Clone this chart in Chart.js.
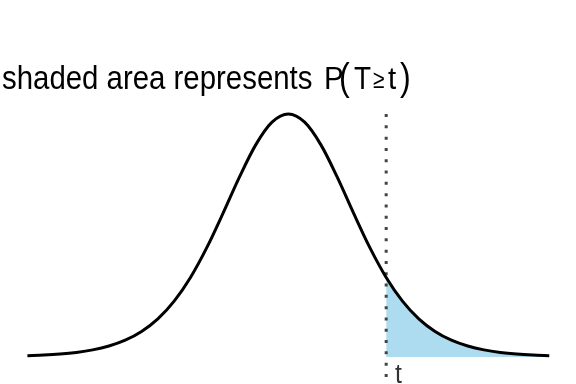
<!DOCTYPE html>
<html>
<head>
<meta charset="utf-8">
<script src="https://cdn.jsdelivr.net/npm/chart.js@4/dist/chart.umd.min.js"></script>
<style>
html,body{margin:0;padding:0;background:#fff;}
#c{display:block;}
</style>
</head>
<body>
<canvas id="c" width="576" height="384"></canvas>
<script>
// t-values (x) and density values
const xValues = [-4,-3.75,-3.5,-3.25,-3,-2.75,-2.5,-2.25,-2,-1.75,-1.5,-1.25,-1,-0.75,-0.5,-0.25,0,
                 0.25,0.5,0.75,1,1.25,1.5,1.75,2,2.25,2.5,2.75,3,3.25,3.5,3.75,4];
const density = [0.002,0.0031,0.0048,0.0074,0.0114,0.0176,0.0269,0.0409,0.0611,0.0895,0.1274,0.1751,0.2304,0.288,0.3397,0.376,0.3891,
                 0.376,0.3397,0.288,0.2304,0.1751,0.1274,0.0895,0.0611,0.0409,0.0269,0.0176,0.0114,0.0074,0.0048,0.0031,0.002];
const tValue = 1.5;
const markerRange = [-0.05, 0.40];

const curve = xValues.map((x,i)=>({x:x, y:density[i]}));
const tail = curve.filter(p => p.x >= tValue);
const marker = markerRange.map(y => ({x:tValue, y:y}));

const textPlugin = {
  id:'texts',
  afterDraw(chart){
    const ctx = chart.ctx;
    ctx.save();
    ctx.textBaseline = 'alphabetic';
    ctx.textAlign = 'left';
    function draw(str, x, y, size, sx, color, fitWidth){
      ctx.save();
      ctx.fillStyle = color || '#000';
      ctx.font = size + 'px "Liberation Sans", Arial, sans-serif';
      if (fitWidth) {
        const m = ctx.measureText(str);
        sx = fitWidth / (m.actualBoundingBoxRight + m.actualBoundingBoxLeft);
      }
      ctx.translate(x, y);
      ctx.scale(sx, 1);
      ctx.fillText(str, 0, 0);
      ctx.restore();
    }
    draw('shaded area represents', 2, 89, 33, 1, '#000', 310);
    draw('P', 324, 89, 31, 0.95);
    draw('(', 339, 90, 38, 0.85);
    draw('T', 354, 89, 31, 0.9);
    draw('\u2265', 373, 88, 26, 0.8);
    draw('t', 388, 89, 31, 0.95);
    draw(')', 400, 90, 38, 0.85);
    draw('t', 395, 383, 27, 0.92, '#333');
    ctx.restore();
  }
};

new Chart(document.getElementById('c'), {
  type:'scatter',
  data:{
    datasets:[
      {data:tail, showLine:true, borderWidth:0, borderColor:'rgba(0,0,0,0)', pointRadius:0,
       fill:'origin', backgroundColor:'rgb(173,220,240)', cubicInterpolationMode:'monotone', order:3},
      {data:curve, showLine:true, borderWidth:3, borderColor:'#000', pointRadius:0,
       fill:false, cubicInterpolationMode:'monotone', order:1},
      {data:marker, showLine:true, borderWidth:3, borderColor:'#444', borderDash:[3,8.3],
       borderCapStyle:'butt', pointRadius:0, fill:false, order:2}
    ]
  },
  options:{
    responsive:false,
    animation:false,
    devicePixelRatio:1,
    layout:{padding:0},
    plugins:{legend:{display:false}, tooltip:{enabled:false}, title:{display:false}},
    scales:{
      x:{type:'linear', min:-4.42, max:4.41, display:false},
      y:{type:'linear', min:-0.0432, max:0.5717, display:false}
    }
  },
  plugins:[textPlugin]
});
</script>
</body>
</html>
